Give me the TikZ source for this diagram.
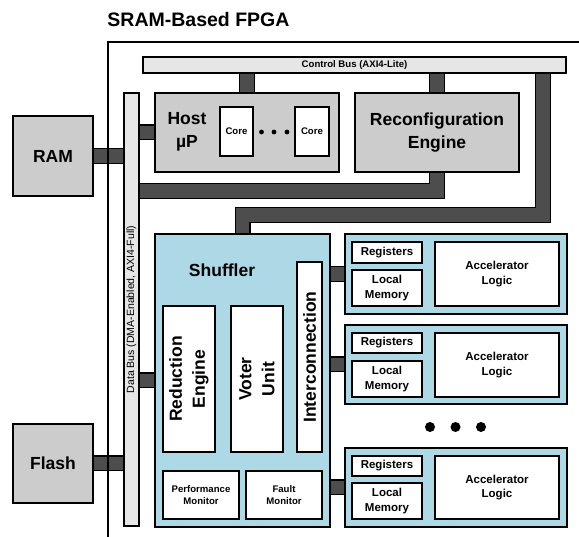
\documentclass[tikz,border=0pt]{standalone}
\usepackage{fontspec}
\setmainfont{Liberation Sans}
\definecolor{boxgray}{HTML}{CCCCCC}
\definecolor{busgray}{HTML}{E6E6E6}
\definecolor{conngray}{HTML}{4D4D4D}
\definecolor{lblue}{HTML}{ADD8E6}
\begin{document}
\begin{tikzpicture}[x=1pt,y=-1pt,
  box/.style={draw=black, line width=1.8pt, inner sep=0pt, font=\bfseries, align=center},
  graybox/.style={box, fill=boxgray},
  whitebox/.style={box, fill=white},
  bluebox/.style={box, fill=lblue},
  busbar/.style={box, fill=busgray},
  conn/.style={draw=black, line width=1.3pt, double=conngray, double distance=13.4pt, line cap=butt, line join=miter},
  big/.style={font=\fontsize{17.5}{23}\selectfont\bfseries, align=center},
  med/.style={font=\fontsize{11.5}{14.5}\selectfont\bfseries, align=center},
  small/.style={font=\fontsize{9.6}{12.5}\selectfont\bfseries, align=center},
  dotc/.style={fill=black, draw=none},
]
\useasboundingbox (0,0) rectangle (579,537);

% title
\node[font=\fontsize{19.5}{22}\selectfont\bfseries] (title) at (198.5,20) {SRAM-Based FPGA};

% buses
\node[busbar, small, minimum width=423pt, minimum height=16pt] (ctrl) at (354.5,65) {Control Bus (AXI4-Lite)};
\node[busbar, minimum width=15pt, minimum height=433pt] (data) at (131.5,309.5) {};
\node[rotate=90, font=\fontsize{10.5}{12}\selectfont, inner sep=0pt] (datalbl) at (data) {Data Bus (DMA-Enabled, AXI4-Full)};

% external memories
\node[graybox, big, minimum width=80pt, minimum height=80pt] (ram) at (53,156) {RAM};
\node[graybox, big, minimum width=80pt, minimum height=79pt] (flash) at (53,463.5) {Flash};

% host
\node[graybox, minimum width=184pt, minimum height=79pt] (host) at (247,132.5) {};
\node[big] (hostlbl) at (187,132) {Host\\µP};
\node[whitebox, small, minimum width=33pt, minimum height=49pt] (core1) at (236.5,131.5) {Core};
\node[whitebox, small, minimum width=34pt, minimum height=49pt] (core2) at (312,131.5) {Core};
\fill[dotc] (261.5,132) circle (2.4pt) (274,132) circle (2.4pt) (287,132) circle (2.4pt);

% reconfiguration engine
\node[graybox, big, minimum width=164pt, minimum height=79pt] (reconf) at (437,132.5) {Reconfiguration\\Engine};

% shuffler
\node[bluebox, minimum width=175pt, minimum height=293pt] (shuf) at (242.5,380.5) {};
\node[big] (shuflbl) at (222,270) {Shuffler};
\node[whitebox, minimum width=52pt, minimum height=146pt] (red) at (189,379) {};
\node[big, rotate=90] (redlbl) at (red) {Reduction\\Engine};
\node[whitebox, minimum width=52pt, minimum height=146pt] (vot) at (257,379) {};
\node[big, rotate=90] (votlbl) at (vot) {Voter\\Unit};
\node[whitebox, minimum width=25pt, minimum height=190pt] (inter) at (309.5,357) {};
\node[big, rotate=90] (interlbl) at (inter) {Interconnection};
\node[whitebox, small, minimum width=76pt, minimum height=48pt] (perf) at (201,495) {Performance\\Monitor};
\node[whitebox, small, minimum width=76pt, minimum height=48pt] (fault) at (284,495) {Fault\\Monitor};

% accelerators
\foreach \i/\cy/\ry/\ly/\ay/\ah in {1/274/252.5/288/274/64, 2/364.5/343/379/365/64, 3/487.5/466/501/487.5/63}{
  \node[bluebox, minimum width=222pt, minimum height=79.5pt] (acc\i) at (456,\cy) {};
  \node[whitebox, med, minimum width=70pt, minimum height=20.5pt] (reg\i) at (387,\ry) {Registers};
  \node[whitebox, med, minimum width=70pt, minimum height=36pt] (lm\i) at (387,\ly) {Local\\Memory};
  \node[whitebox, med, minimum width=124pt, minimum height=\ah pt] (al\i) at (497,\ay) {Accelerator\\Logic};
}
\fill[dotc] (430,427) circle (5pt) (455.5,427) circle (5pt) (481,427) circle (5pt);

% connectors
\coordinate (rj) at (437,191);
\coordinate (cj) at (543,215);
\draw[conn] (ram.east) -- (ram.east -| data.west);
\draw[conn] (flash.east) -- (flash.east -| data.west);
\draw[conn] (host.west) -- (host.west -| data.east);
\draw[conn] (host.north) -- (host.north |- ctrl.south);
\draw[conn] (reconf.north) -- (reconf.north |- ctrl.south);
\draw[conn] (reconf.south) -- (rj) -- (rj -| data.east);
\draw[conn] (ctrl.south -| cj) -- (cj) -| (shuf.north);
\draw[conn] (shuf.west) -- (shuf.west -| data.east);
\foreach \i in {1,2,3}{
  \draw[conn] (acc\i.west) -- (acc\i.west -| shuf.east);
}

% FPGA outline
\draw[line width=1.8pt] (580,42) -- (108,42) -- (108,538);
\end{tikzpicture}
\end{document}
